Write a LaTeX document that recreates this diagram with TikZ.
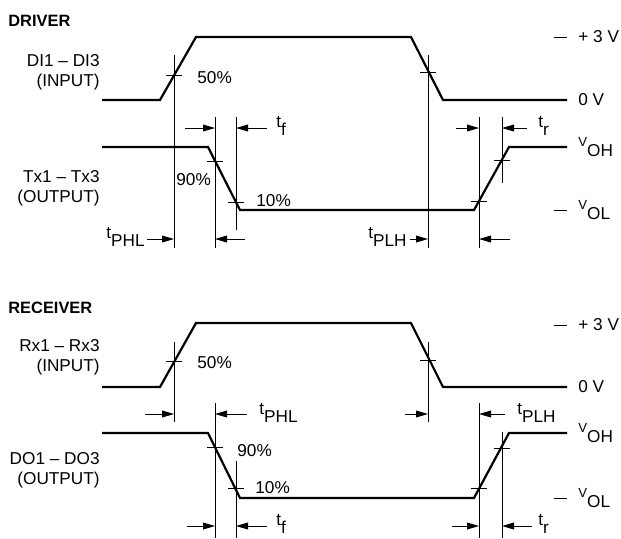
\documentclass[tikz,border=0pt]{standalone}
\usepackage{fontspec}
\setmainfont{Liberation Sans}
\usetikzlibrary{arrows.meta}
\newcommand{\lowsub}[1]{\raisebox{-3.8pt}{#1}}
\newcommand{\vlevel}[1]{\raisebox{1.4pt}{\fontsize{6.6}{7}\selectfont V}\raisebox{-3.6pt}{#1}}
\tikzset{
  wave/.style={line width=1.1pt, line join=miter},
  guide/.style={line width=0.45pt},
  dim/.style={guide, -{Triangle[length=6pt,width=3.4pt]}},
  lbl/.style={font=\fontsize{8.6}{10}\selectfont, inner sep=0pt},
  head/.style={lbl, font=\fontsize{8.2}{10}\selectfont\bfseries, anchor=west},
  side/.style={lbl, align=right, anchor=east},
}

\begin{document}
\begin{tikzpicture}[x=0.5pt,y=-0.5pt]
  \useasboundingbox (0,0) rectangle (621,538);

  % ---------------- driver ----------------
  \node[head] (drv) at (8,21) {DRIVER};
  \node[side] (drvin) at (100,72) {DI1 – DI3\\(INPUT)};
  \node[side] (drvout) at (100,188) {Tx1 – Tx3\\(OUTPUT)};

  % waveforms
  \draw[wave] (102,100) -- (160,100) -- (196,37) -- (411,37) -- (443,100) -- (567,100);
  \draw[wave] (102,147) -- (208,147) -- (240,210) -- (474,210) -- (509,147) -- (567,147);

  % guide lines and ticks
  \draw[guide] (174,55) -- (174,248)  (166,75) -- (182,75);
  \draw[guide] (428,55) -- (428,248)  (420,72) -- (436,72);
  \draw[guide] (215,117) -- (215,248) (207,161) -- (223,161);
  \draw[guide] (236,117) -- (236,230) (228,202) -- (244,202);
  \draw[guide] (479,117) -- (479,248) (471,201) -- (487,201);
  \draw[guide] (502,117) -- (502,183) (494,160) -- (510,160);

  % timing arrows
  \draw[dim] (185,128) -- (215,128);
  \draw[dim] (267,128) -- (236,128);
  \draw[dim] (456,128) -- (479,128);
  \draw[dim] (527,128) -- (502,128);
  \draw[dim] (147,239) -- (174,239);
  \draw[dim] (245,239) -- (215,239);
  \draw[dim] (410,239) -- (428,239);
  \draw[dim] (510,239) -- (479,239);

  % labels
  \node[lbl, anchor=west] (d50) at (197,78) {50\%};
  \node[lbl, anchor=west] (d90) at (176,180) {90\%};
  \node[lbl, anchor=west] (d10) at (256,201) {10\%};
  \node[lbl, anchor=west] (dtf) at (276,126) {t\lowsub{f}};
  \node[lbl, anchor=west] (dtr) at (538,126) {t\lowsub{r}};
  \node[lbl, anchor=east] (dphl) at (145,237) {t\lowsub{PHL}};
  \node[lbl, anchor=east] (dplh) at (407,237) {t\lowsub{PLH}};

  % levels
  \draw[guide] (554,37) -- (567,37);
  \draw[guide] (554,210) -- (567,210);
  \node[lbl, anchor=west] (dhi) at (578,37) {+ 3 V};
  \node[lbl, anchor=west] (dlo) at (578,100) {0 V};
  \node[lbl, anchor=west] (dvoh) at (578,147) {\vlevel{OH}};
  \node[lbl, anchor=west] (dvol) at (578,210) {\vlevel{OL}};

  % ---------------- receiver ----------------
  \node[head] (rcv) at (8,308) {RECEIVER};
  \node[side] (rcvin) at (100,357) {Rx1 – Rx3\\(INPUT)};
  \node[side] (rcvout) at (100,470) {DO1 – DO3\\(OUTPUT)};

  % waveforms
  \draw[wave] (102,387) -- (160,387) -- (196,323) -- (411,323) -- (443,387) -- (567,387);
  \draw[wave] (102,433) -- (208,433) -- (240,498) -- (474,498) -- (509,433) -- (567,433);

  % guide lines and ticks
  \draw[guide] (174,342) -- (174,422) (166,361) -- (182,361);
  \draw[guide] (428,342) -- (428,422) (420,360) -- (436,360);
  \draw[guide] (215,403) -- (215,538) (207,447) -- (223,447);
  \draw[guide] (236,461) -- (236,538) (228,488) -- (244,488);
  \draw[guide] (479,403) -- (479,538) (471,488) -- (487,488);
  \draw[guide] (502,432) -- (502,538) (494,448) -- (510,448);

  % timing arrows
  \draw[dim] (145,414) -- (174,414);
  \draw[dim] (405,414) -- (428,414);
  \draw[dim] (247,414) -- (215,414);
  \draw[dim] (505,414) -- (479,414);
  \draw[dim] (187,526) -- (215,526);
  \draw[dim] (267,526) -- (236,526);
  \draw[dim] (452,526) -- (479,526);
  \draw[dim] (532,526) -- (502,526);

  % labels
  \node[lbl, anchor=west] (r50) at (197,363) {50\%};
  \node[lbl, anchor=west] (r90) at (237,451) {90\%};
  \node[lbl, anchor=west] (r10) at (255,488) {10\%};
  \node[lbl, anchor=west] (rphl) at (259,413) {t\lowsub{PHL}};
  \node[lbl, anchor=west] (rplh) at (517,413) {t\lowsub{PLH}};
  \node[lbl, anchor=west] (rtf) at (276,524) {t\lowsub{f}};
  \node[lbl, anchor=west] (rtr) at (538,524) {t\lowsub{r}};

  % levels
  \draw[guide] (554,325) -- (567,325);
  \draw[guide] (554,498) -- (567,498);
  \node[lbl, anchor=west] (rhi) at (578,325) {+ 3 V};
  \node[lbl, anchor=west] (rlo) at (578,387) {0 V};
  \node[lbl, anchor=west] (rvoh) at (578,433) {\vlevel{OH}};
  \node[lbl, anchor=west] (rvol) at (578,498) {\vlevel{OL}};
\end{tikzpicture}
\end{document}
